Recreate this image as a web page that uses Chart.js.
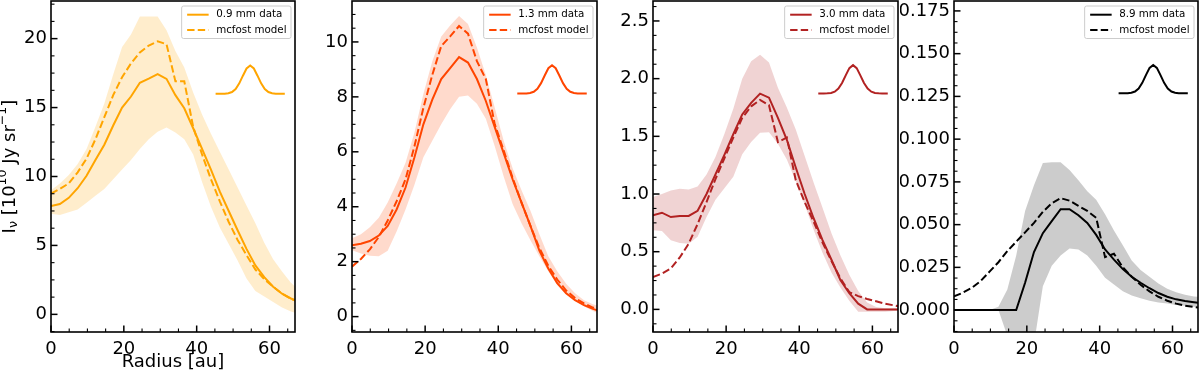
<!DOCTYPE html>
<html>
<head>
<meta charset="utf-8">
<script src="https://cdn.jsdelivr.net/npm/chart.js@4.4.1/dist/chart.umd.min.js"></script>
<style>
  html, body { margin: 0; padding: 0; background: #fff; }
  #wrap { position: relative; width: 1200px; height: 373px; overflow: hidden; }
  #wrap canvas { position: absolute; top: 0; }
</style>
</head>
<body>
<div id="wrap">
  <canvas id="c1" width="300" height="373" style="left:0px"></canvas>
  <canvas id="c2" width="300" height="373" style="left:300px"></canvas>
  <canvas id="c3" width="300" height="373" style="left:600px"></canvas>
  <canvas id="c4" width="300" height="373" style="left:900px"></canvas>
</div>
<script>
// radial sampling of the profiles (au)
const radius = [0, 2.44, 4.88, 7.32, 9.76, 12.2, 14.64, 17.08, 19.52, 21.96, 24.4, 26.84, 29.28, 31.72, 34.16,
  36.6, 39.04, 41.48, 43.92, 46.36, 48.8, 51.24, 53.68, 56.12, 58.56, 61, 63.44, 65.88, 68.32];

// 0.9 mm
const data09 = [7.85, 8.0, 8.45, 9.15, 10.05, 11.2, 12.3, 13.7, 15.0, 15.8, 16.8, 17.1, 17.42, 17.08, 15.9,
  14.95, 13.5, 12.0, 10.5, 8.9, 7.5, 6.1, 4.75, 3.55, 2.7, 2.0, 1.5, 1.15, 0.9];
const model09 = [8.75, 9.1, 9.5, 10.3, 11.3, 12.7, 14.3, 15.9, 17.2, 18.2, 19.0, 19.5, 19.8, 19.6, 16.9,
  16.9, 13.6, 11.6, 9.8, 8.2, 6.7, 5.4, 4.3, 3.25, 2.55, 2.0, 1.5, 1.12, 0.88];
const upper09 = [9.0, 9.5, 10.1, 10.9, 12.0, 13.6, 15.3, 17.4, 19.4, 20.3, 21.6, 21.6, 21.6, 20.6, 19.1,
  17.9, 16.1, 14.5, 13.1, 11.8, 10.5, 9.2, 7.9, 6.6, 5.2, 4.0, 3.1, 2.3, 1.7];
const lower09 = [7.3, 7.2, 7.4, 7.6, 8.1, 8.6, 9.1, 9.8, 10.5, 11.2, 12.0, 12.7, 13.25, 13.55, 13.2,
  12.7, 11.6, 9.6, 7.8, 6.3, 5.1, 3.9, 2.6, 1.7, 1.3, 0.9, 0.5, 0.2, 0.0];

// 1.3 mm
const data13 = [2.6, 2.65, 2.75, 2.95, 3.3, 3.9, 4.7, 5.8, 7.0, 7.9, 8.65, 9.05, 9.45, 9.25, 8.65,
  7.85, 6.9, 5.95, 5.0, 4.15, 3.3, 2.4, 1.75, 1.22, 0.85, 0.6, 0.42, 0.28, 0.18];
const model13 = [1.82, 2.1, 2.45, 2.9, 3.5, 4.2, 5.0, 6.2, 7.6, 8.8, 9.85, 10.2, 10.58, 10.3, 9.3,
  8.65, 7.0, 6.05, 5.05, 4.15, 3.3, 2.5, 1.85, 1.35, 0.95, 0.68, 0.48, 0.33, 0.22];
const upper13 = [2.85, 3.0, 3.25, 3.6, 4.15, 4.85, 5.6, 6.7, 8.1, 9.3, 10.2, 10.6, 10.94, 10.65, 9.8,
  8.8, 7.6, 6.4, 5.4, 4.6, 3.85, 3.0, 2.2, 1.65, 1.2, 0.85, 0.6, 0.45, 0.35];
const lower13 = [2.42, 2.3, 2.22, 2.2, 2.4, 3.1, 3.9, 4.8, 5.8, 6.4, 7.0, 7.55, 8.0, 8.05, 7.75,
  7.2, 6.2, 5.1, 4.1, 3.4, 2.78, 2.2, 1.65, 1.15, 0.85, 0.6, 0.38, 0.2, 0.08];

// 3.0 mm
const data30 = [0.815, 0.838, 0.80, 0.81, 0.81, 0.855, 1.0, 1.17, 1.34, 1.52, 1.69, 1.79, 1.87, 1.835, 1.66,
  1.47, 1.23, 1.0, 0.79, 0.6, 0.43, 0.255, 0.14, 0.05, 0.0, 0.0, 0.0, 0.0, 0.0];
const model30 = [0.28, 0.31, 0.355, 0.45, 0.57, 0.74, 0.93, 1.13, 1.31, 1.49, 1.66, 1.76, 1.815, 1.77, 1.45,
  1.49, 1.12, 0.93, 0.76, 0.58, 0.42, 0.27, 0.15, 0.115, 0.09, 0.07, 0.05, 0.035, 0.02];
const upper30 = [0.975, 1.0, 1.03, 1.045, 1.04, 1.065, 1.17, 1.32, 1.52, 1.74, 2.0, 2.15, 2.207, 2.14, 1.92,
  1.75, 1.56, 1.33, 1.1, 0.88, 0.66, 0.47, 0.3, 0.16, 0.06, 0.02, 0.01, 0.01, 0.01];
const lower30 = [0.685, 0.68, 0.6, 0.575, 0.57, 0.63, 0.8, 0.95, 1.05, 1.15, 1.345, 1.45, 1.53, 1.535, 1.435,
  1.3, 1.11, 0.91, 0.69, 0.49, 0.32, 0.19, 0.075, -0.02, -0.02, -0.02, -0.02, -0.015, -0.01];

// 8.9 mm
const data89 = [0, 0, 0, 0, 0, 0, 0, 0, 0.016, 0.034, 0.045, 0.052, 0.059, 0.059, 0.0555,
  0.051, 0.044, 0.0355, 0.0295, 0.024, 0.0195, 0.016, 0.0128, 0.01, 0.0078, 0.0063, 0.0053, 0.0046, 0.004];
const model89 = [0.008, 0.0102, 0.013, 0.017, 0.0225, 0.028, 0.0345, 0.04, 0.0455, 0.051, 0.0575, 0.0625, 0.0655, 0.064, 0.061,
  0.058, 0.054, 0.031, 0.033, 0.025, 0.0195, 0.0148, 0.011, 0.0078, 0.0055, 0.0038, 0.0026, 0.0018, 0.0013];
const upper89 = [0, 0, 0, 0, 0, 0.002, 0.012, 0.032, 0.058, 0.073, 0.086, 0.0865, 0.0865, 0.082, 0.076,
  0.0695, 0.0645, 0.056, 0.0465, 0.038, 0.029, 0.0235, 0.0195, 0.0155, 0.0125, 0.0105, 0.009, 0.008, 0.0075];
const lower89 = [0, 0, 0, 0, 0, 0, -0.015, -0.035, -0.04, -0.02, 0.014, 0.026, 0.032, 0.036, 0.0355,
  0.032, 0.026, 0.019, 0.015, 0.011, 0.0085, 0.007, 0.0055, 0.0045, 0.0039, 0.003, 0.0025, 0.002, 0.0018];

// beam profile drawn in each panel (normalised shape) and its level per panel
const beamX = [45.2, 46.7, 47.7, 48.7, 49.7, 50.7, 51.7, 52.7, 53.7, 54.7, 55.7, 56.7, 57.7, 58.7, 59.7, 60.7, 61.7, 62.7, 64.2];
const beamShape = [0, 0.001, 0.004, 0.018, 0.062, 0.169, 0.368, 0.64, 0.895, 1, 0.895, 0.64, 0.368, 0.169, 0.062, 0.018, 0.004, 0.001, 0];
const beamBase = [16.0, 8.12, 1.872, 0.1268];
const beamPeak = [18.05, 9.15, 2.117, 0.1434];

const wavelengths = ['0.9 mm data', '1.3 mm data', '3.0 mm data', '8.9 mm data'];
const yMins = [-1.28, -0.56, -0.196, -0.0128];
const yMaxs = [22.73, 11.49, 2.673, 0.1808];
const ySteps = [5, 2, 0.5, 0.025];
const yDecimals = [0, 0, 1, 3];

Chart.defaults.font.family = '"DejaVu Sans", sans-serif';
Chart.defaults.color = '#000';

const panels = [
  { canvas: 'c1', color: '#ffa500', fill: 'rgba(255,165,0,0.2)', data: data09, model: model09, upper: upper09, lower: lower09, axisW: 51, padRight: 5, first: true },
  { canvas: 'c2', color: '#ff4500', fill: 'rgba(255,69,0,0.2)', data: data13, model: model13, upper: upper13, lower: lower13, axisW: 52, padRight: 3 },
  { canvas: 'c3', color: '#b22222', fill: 'rgba(178,34,34,0.2)', data: data30, model: model30, upper: upper30, lower: lower30, axisW: 53, padRight: 2 },
  { canvas: 'c4', color: '#000000', fill: 'rgba(0,0,0,0.2)', data: data89, model: model89, upper: upper89, lower: lower89, axisW: 54, padRight: 2 }
];

const pts = (xs, ys) => xs.map((x, i) => ({ x, y: ys[i] }));

// frame + inward ticks (left and bottom)
const frameTicks = {
  id: 'frameTicks',
  afterDraw(chart) {
    const { ctx, chartArea: a, scales: { x, y } } = chart;
    ctx.save();
    ctx.strokeStyle = '#000';
    const marks = (scale, major, horizontal) => {
      const minor = major / 4;
      const k0 = Math.ceil(scale.min / minor - 1e-9);
      const k1 = Math.floor(scale.max / minor + 1e-9);
      for (let k = k0; k <= k1; k++) {
        const isMajor = k % 4 === 0;
        const len = isMajor ? 6.5 : 3.5;
        ctx.lineWidth = isMajor ? 1.5 : 1.1;
        const p = scale.getPixelForValue(k * minor);
        ctx.beginPath();
        if (horizontal) { ctx.moveTo(p, a.bottom); ctx.lineTo(p, a.bottom - len); }
        else { ctx.moveTo(a.left, p); ctx.lineTo(a.left + len, p); }
        ctx.stroke();
      }
    };
    marks(x, 20, true);
    marks(y, chart.options.scales.y.ticks.stepSize, false);
    ctx.lineWidth = 1.6;
    ctx.strokeRect(a.left, a.top, a.right - a.left, a.bottom - a.top);
    ctx.restore();
  }
};

// boxed legend in the upper right corner
const boxLegend = {
  id: 'boxLegend',
  afterDatasetsDraw(chart) {
    const items = chart.data.datasets.filter(d => d.label);
    const { ctx, chartArea: a } = chart;
    ctx.save();
    ctx.font = '10.3px "DejaVu Sans"';
    const textW = Math.max(...items.map(d => ctx.measureText(d.label).width));
    const w = 5.5 + 21.5 + 7.5 + textW + 4.5;
    const h = 32.5;
    const left = a.right - 4 - w;
    const top = a.top + 5;
    ctx.fillStyle = 'rgba(255,255,255,0.8)';
    ctx.strokeStyle = '#cccccc';
    ctx.lineWidth = 1;
    ctx.beginPath();
    ctx.roundRect(left, top, w, h, 2);
    ctx.fill();
    ctx.stroke();
    items.forEach((d, i) => {
      const yy = top + 8.7 + i * 15.3;
      ctx.strokeStyle = d.borderColor;
      ctx.lineWidth = 2;
      ctx.setLineDash(d.borderDash || []);
      ctx.beginPath();
      ctx.moveTo(left + 5.5, yy);
      ctx.lineTo(left + 27, yy);
      ctx.stroke();
      ctx.setLineDash([]);
      ctx.fillStyle = '#000';
      ctx.textBaseline = 'middle';
      ctx.textAlign = 'left';
      ctx.fillText(d.label, left + 34.5, yy);
    });
    ctx.restore();
  }
};

// rotated y title with sub/superscripts
const yTitle = {
  id: 'yTitle',
  afterDraw(chart, args, opts) {
    if (!opts.show) return;
    const { ctx, chartArea: a } = chart;
    const big = '18px "DejaVu Sans"';
    const small = '12.6px "DejaVu Sans"';
    const parts = [['I', big, 0], ['\u03bd', small, 4], [' [10', big, 0], ['10', small, -7],
      [' Jy sr', big, 0], ['\u22121', small, -7], [']', big, 0]];
    ctx.save();
    ctx.translate(10, (a.top + a.bottom) / 2);
    ctx.rotate(-Math.PI / 2);
    let total = 0;
    parts.forEach(([t, f]) => { ctx.font = f; total += ctx.measureText(t).width; });
    let x = -total / 2;
    ctx.fillStyle = '#000';
    ctx.textBaseline = 'middle';
    parts.forEach(([t, f, dy]) => {
      ctx.font = f;
      ctx.fillText(t, x, dy);
      x += ctx.measureText(t).width;
    });
    ctx.restore();
  }
};

panels.forEach((p, i) => {
  const beamY = beamShape.map(v => beamBase[i] + (beamPeak[i] - beamBase[i]) * v);
  new Chart(document.getElementById(p.canvas), {
    type: 'line',
    data: {
      datasets: [
        { data: pts(radius, p.upper), borderWidth: 0, fill: '+1', backgroundColor: p.fill, order: 3 },
        { data: pts(radius, p.lower), borderWidth: 0, fill: false, order: 3 },
        { label: wavelengths[i], data: pts(radius, p.data), borderColor: p.color, borderWidth: 2, fill: false, order: 1 },
        { label: 'mcfost model', data: pts(radius, p.model), borderColor: p.color, borderWidth: 2, borderDash: [7.4, 3.2], fill: false, order: 1 },
        { data: pts(beamX, beamY), borderColor: p.color, borderWidth: 2, fill: false, order: 1 }
      ]
    },
    options: {
      responsive: false,
      animation: false,
      devicePixelRatio: 1,
      layout: { autoPadding: false, padding: { top: 1, right: p.padRight, bottom: 0, left: 0 } },
      elements: { point: { radius: 0 }, line: { tension: 0 } },
      plugins: {
        legend: { display: false },
        tooltip: { enabled: false },
        yTitle: { show: !!p.first }
      },
      scales: {
        x: {
          type: 'linear', min: 0, max: 67,
          grid: { display: false, drawTicks: false },
          border: { display: false },
          ticks: { stepSize: 20, includeBounds: false, padding: 7, maxRotation: 0, color: '#000', font: { size: 18 } },
          title: { display: !!p.first, text: 'Radius [au]', color: '#000', font: { size: 18 }, padding: 0 },
          afterFit: s => { s.height = 41; s.paddingLeft = 0; s.paddingRight = 0; }
        },
        y: {
          type: 'linear', min: yMins[i], max: yMaxs[i],
          grid: { display: false, drawTicks: false },
          border: { display: false },
          ticks: {
            stepSize: ySteps[i], includeBounds: false, padding: 4, color: '#000', font: { size: 18 },
            callback: v => v.toFixed(yDecimals[i])
          },
          afterFit: s => { s.width = p.axisW; s.paddingTop = 0; s.paddingBottom = 0; }
        }
      }
    },
    plugins: [frameTicks, boxLegend, yTitle]
  });
});
</script>
</body>
</html>
